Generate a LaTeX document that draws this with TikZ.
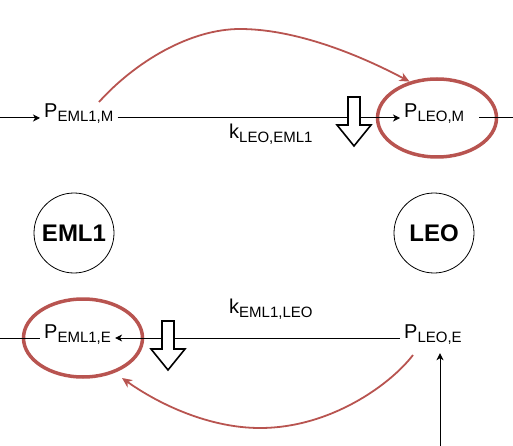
\documentclass[tikz,border=0pt]{standalone}
\usepackage{fontspec}
\setmainfont{Liberation Sans}
\usetikzlibrary{arrows.meta,shapes.geometric}
\definecolor{redl}{HTML}{B85450}
\newcommand{\mysub}[1]{\raisebox{-4pt}{\fontsize{15}{15}\selectfont #1}}
\tikzset{
  ptxt/.style={font=\fontsize{20}{20}\selectfont, inner xsep=4pt, inner ysep=0pt, text height=9pt, text depth=9pt, anchor=west},
  ktxt/.style={font=\fontsize{20}{20}\selectfont, inner sep=0pt, anchor=base west},
  blk/.style={line width=1pt, -{Stealth[length=7pt,width=7pt,inset=2pt]}},
  plain/.style={line width=1pt},
  redell/.style={ellipse, draw=redl, line width=3.5pt, minimum width=119pt, minimum height=78pt, inner sep=0pt},
  redarr/.style={draw=redl, line width=1.8pt, -{Stealth[length=10pt,width=9pt,inset=3pt]}},
  orb/.style={circle, draw, line width=0.8pt, minimum size=80pt, inner sep=0pt, font=\fontsize{24}{24}\selectfont\bfseries},
  blockarr/.style={draw, line width=1.6pt, fill=white, line join=miter},
}
\begin{document}
\begin{tikzpicture}[x=1pt,y=-1pt]
\useasboundingbox (0,0) rectangle (513,446);
% red ellipses
\node[redell] (elm) at (437,118) {};
\node[redell] (ele) at (83,338) {};
% orbit circles
\node[orb] (eml) at (74,233) {EML1};
\node[orb] (leo) at (434,233) {LEO};
% text nodes
\node[ptxt] (pem) at (40,118) {P\mysub{EML1,M}};
\node[ptxt] (plm) at (400,118) {P\mysub{LEO,M}};
\node[ptxt] (pee) at (40,338) {P\mysub{EML1,E}};
\node[ptxt] (ple) at (400,338) {P\mysub{LEO,E}};
\node[ktxt] (k1) at (229,139) {k\mysub{LEO,EML1}};
\node[ktxt] (k2) at (229,313) {k\mysub{EML1,LEO}};
% free ends
\coordinate (inL) at (0,118);
\coordinate (outR) at (513,118);
\coordinate (inL2) at (0,338);
\coordinate (bot) at (440,446);
\coordinate (cs1) at (99,102);
\coordinate (cs2) at (413,355);
\coordinate (ce2) at (122,378);
% black connectors
\draw[blk] (inL) -- (pem);
\draw[blk] (pem) -- (plm);
\draw[plain, shorten <=11pt] (plm) -- (outR);
\draw[plain] (inL2) -- (pee);
\draw[blk] (ple) -- (pee);
\draw[blk, shorten >=6pt] (bot) -- (bot |- ple.south);
% red curves
\draw[redarr] (cs1) .. controls (135,62) and (190,29) .. (240,29)
   .. controls (290,29) and (350,50) .. (elm.127);
\draw[redarr] (cs2) .. controls (390,385) and (330,428) .. (260,428)
   .. controls (210,428) and (160,405) .. (ce2);
% block arrows
\draw[blockarr] (348,97) -- (360,97) -- (360,125) -- (371,125) -- (354,146) -- (337,125) -- (348,125) -- cycle;
\draw[blockarr] (162,321) -- (174,321) -- (174,349) -- (185,349) -- (168,370) -- (151,349) -- (162,349) -- cycle;
\end{tikzpicture}
\end{document}
